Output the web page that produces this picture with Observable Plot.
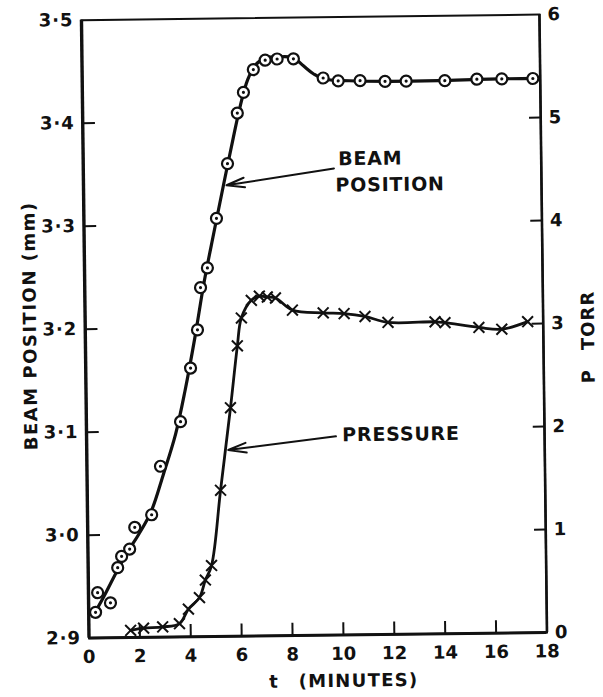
<!DOCTYPE html>
<html>
<head>
<meta charset="utf-8">
<script src="https://cdn.jsdelivr.net/npm/d3@7"></script>
<script src="https://cdn.jsdelivr.net/npm/@observablehq/plot@0.6"></script>
<style>
  html, body { margin: 0; padding: 0; background: #fff; }
  #chart svg { display: block; transform: rotate(-0.7deg); }
  #chart svg text { font-weight: bold; }
  #chart .tick-text text { letter-spacing: 1px; }
  #chart .note text { letter-spacing: 0.8px; }
  #chart .title-y text { letter-spacing: 1.5px; }
  #chart .title-x text { letter-spacing: 1.3px; }
  #chart .title-p text { letter-spacing: 1px; }
</style>
</head>
<body>
<div id="chart"></div>
<script>
// Beam position (mm) measured against time (minutes): circled points
const beamT  = [0.27, 0.36, 0.86, 1.16, 1.32, 1.64, 1.85, 2.52, 2.89, 3.70, 4.12, 4.41, 4.55, 4.83, 5.21, 5.67, 6.08, 6.33, 6.73, 7.20, 7.67, 8.31, 9.47, 10.06, 10.92, 11.90, 12.73, 14.25, 15.51, 16.49, 17.71];
const beamMm = [2.925, 2.944, 2.934, 2.968, 2.979, 2.986, 3.007, 3.019, 3.066, 3.109, 3.161, 3.198, 3.239, 3.258, 3.306, 3.359, 3.408, 3.428, 3.450, 3.459, 3.460, 3.460, 3.441, 3.438, 3.438, 3.437, 3.437, 3.437, 3.438, 3.438, 3.438];

// Smooth hand-drawn curve through the beam readings
const beamCurveT  = [0.15, 0.6, 1.2, 1.6, 2.0, 2.5, 3.0, 3.5, 3.9, 4.3, 4.7, 5.1, 5.5, 5.9, 6.2, 6.5, 6.8, 7.2, 7.7, 8.3, 8.7, 9.1, 9.5, 10.5, 12, 14, 16, 17.9];
const beamCurveMm = [2.921, 2.940, 2.968, 2.985, 3.000, 3.022, 3.058, 3.097, 3.140, 3.190, 3.245, 3.292, 3.338, 3.383, 3.415, 3.440, 3.454, 3.461, 3.462, 3.461, 3.453, 3.445, 3.440, 3.438, 3.437, 3.437, 3.438, 3.438];

// Pressure (torr) against time (minutes): crosses
const pressT    = [1.64, 2.15, 2.90, 3.56, 3.92, 4.36, 4.60, 4.85, 5.24, 5.67, 5.97, 6.14, 6.54, 6.86, 7.17, 7.49, 8.15, 9.36, 10.18, 11.00, 11.90, 13.75, 14.14, 15.47, 16.37, 17.39];
const pressTorr = [0.07, 0.09, 0.10, 0.13, 0.27, 0.38, 0.55, 0.69, 1.42, 2.22, 2.82, 3.09, 3.26, 3.30, 3.29, 3.28, 3.16, 3.13, 3.12, 3.09, 3.03, 3.03, 3.02, 2.97, 2.95, 3.02];

// Axis ticks
const timeTicks = [0, 2, 4, 6, 8, 10, 12, 14, 16, 18];
const mmTicks   = [2.9, 3.0, 3.1, 3.2, 3.3, 3.4, 3.5];
const torrTicks = [0, 1, 2, 3, 4, 5, 6];

const beam = beamT.map((t, i) => ({t, mm: beamMm[i]}));
const beamCurve = beamCurveT.map((t, i) => ({t, mm: beamCurveMm[i]}));
const press = pressT.map((t, i) => ({t, torr: pressTorr[i]}));

// Right-hand pressure axis shares the plot's y scale: 0–6 torr spans 2.9–3.5 mm
const torrToMm = d3.scaleLinear().domain([0, 6]).range([2.9, 3.5]);

// Annotation labels and arrows, in data coordinates
const labels = [
  {text: "BEAM", t: 10.02, mm: 3.362},
  {text: "POSITION", t: 9.9, mm: 3.3365},
  {text: "PRESSURE", t: 10.05, mm: 3.094}
];
const arrows = [
  {t1: 9.85, mm1: 3.353, t2: 5.62, mm2: 3.338},
  {t1: 9.8, mm1: 3.093, t2: 5.56, mm2: 3.081}
];

const ink = "#111";
const mmFormat = d => d.toFixed(1).replace(".", "\u00b7");

const chart = Plot.plot({
  width: 603,
  height: 697,
  marginTop: 17,
  marginBottom: 62,
  marginLeft: 85,
  marginRight: 60,
  style: {fontFamily: "'DejaVu Sans', sans-serif", fontSize: "18px", color: ink, background: "#fff"},
  x: {domain: [0, 18]},
  y: {domain: [2.9, 3.5]},
  marks: [
    Plot.frame({stroke: ink, strokeWidth: 2}),
    Plot.ruleX([0], {stroke: ink, strokeWidth: 3.4}),
    Plot.ruleY([2.9], {stroke: ink, strokeWidth: 3}),
    Plot.ruleX([18], {stroke: ink, strokeWidth: 2.6}),

    // inward tick marks
    Plot.ruleY(mmTicks.slice(1, -1), {x1: 0, x2: 0.5, stroke: ink, strokeWidth: 2}),
    Plot.ruleY(torrTicks.slice(1, -1), {y: d => torrToMm(d), x1: 17.56, x2: 18, stroke: ink, strokeWidth: 2}),
    Plot.ruleX(timeTicks.slice(1, -1), {y1: 2.9, y2: 2.912, stroke: ink, strokeWidth: 2}),

    // tick labels
    Plot.axisY(mmTicks, {anchor: "left", tickSize: 0, tickPadding: 8, tickFormat: mmFormat, label: null, fontSize: 18, className: "tick-text"}),
    Plot.axisY(torrTicks, {anchor: "right", y: d => torrToMm(d), tickSize: 0, tickPadding: 8, tickFormat: d => `${d}`, label: null, fontSize: 18}),
    Plot.axisX(timeTicks, {anchor: "bottom", tickSize: 0, tickPadding: 12, label: null, fontSize: 18}),

    // axis titles
    Plot.text(["BEAM POSITION (mm)"], {frameAnchor: "left", rotate: -90, dx: -55, dy: -4, textAnchor: "middle", lineAnchor: "middle", fontSize: 18, className: "title-y"}),
    Plot.text(["P\u2003TORR"], {frameAnchor: "right", rotate: -90, dx: 45, dy: 14, textAnchor: "middle", lineAnchor: "middle", fontSize: 18, className: "title-p"}),
    Plot.text(["t"], {frameAnchor: "bottom", dx: -45, dy: 46, textAnchor: "middle", lineAnchor: "middle", fontSize: 18}),
    Plot.text(["(MINUTES)"], {frameAnchor: "bottom", dx: -20, dy: 46, textAnchor: "start", lineAnchor: "middle", fontSize: 18, className: "title-x"}),

    // curves
    Plot.line(beamCurve, {x: "t", y: "mm", curve: "catmull-rom", stroke: ink, strokeWidth: 3.2}),
    Plot.line(press, {x: "t", y: d => torrToMm(d.torr), curve: "catmull-rom", stroke: ink, strokeWidth: 2.8}),

    // beam points: circle with a centre dot
    Plot.dot(beam, {x: "t", y: "mm", r: 5.5, fill: "#fff", stroke: ink, strokeWidth: 2.2}),
    Plot.dot(beam, {x: "t", y: "mm", r: 1.6, fill: ink}),

    // pressure points: crosses
    Plot.dot(press, {x: "t", y: d => torrToMm(d.torr), symbol: "times", r: 5, stroke: ink, strokeWidth: 2}),

    // annotations
    Plot.arrow(arrows, {x1: "t1", y1: "mm1", x2: "t2", y2: "mm2", headLength: 14, headAngle: 30, stroke: ink, strokeWidth: 2}),
    Plot.text(labels, {x: "t", y: "mm", text: "text", textAnchor: "start", lineAnchor: "middle", fontSize: 19, fill: ink, className: "note"})
  ]
});

document.getElementById("chart").append(chart);
</script>
</body>
</html>
